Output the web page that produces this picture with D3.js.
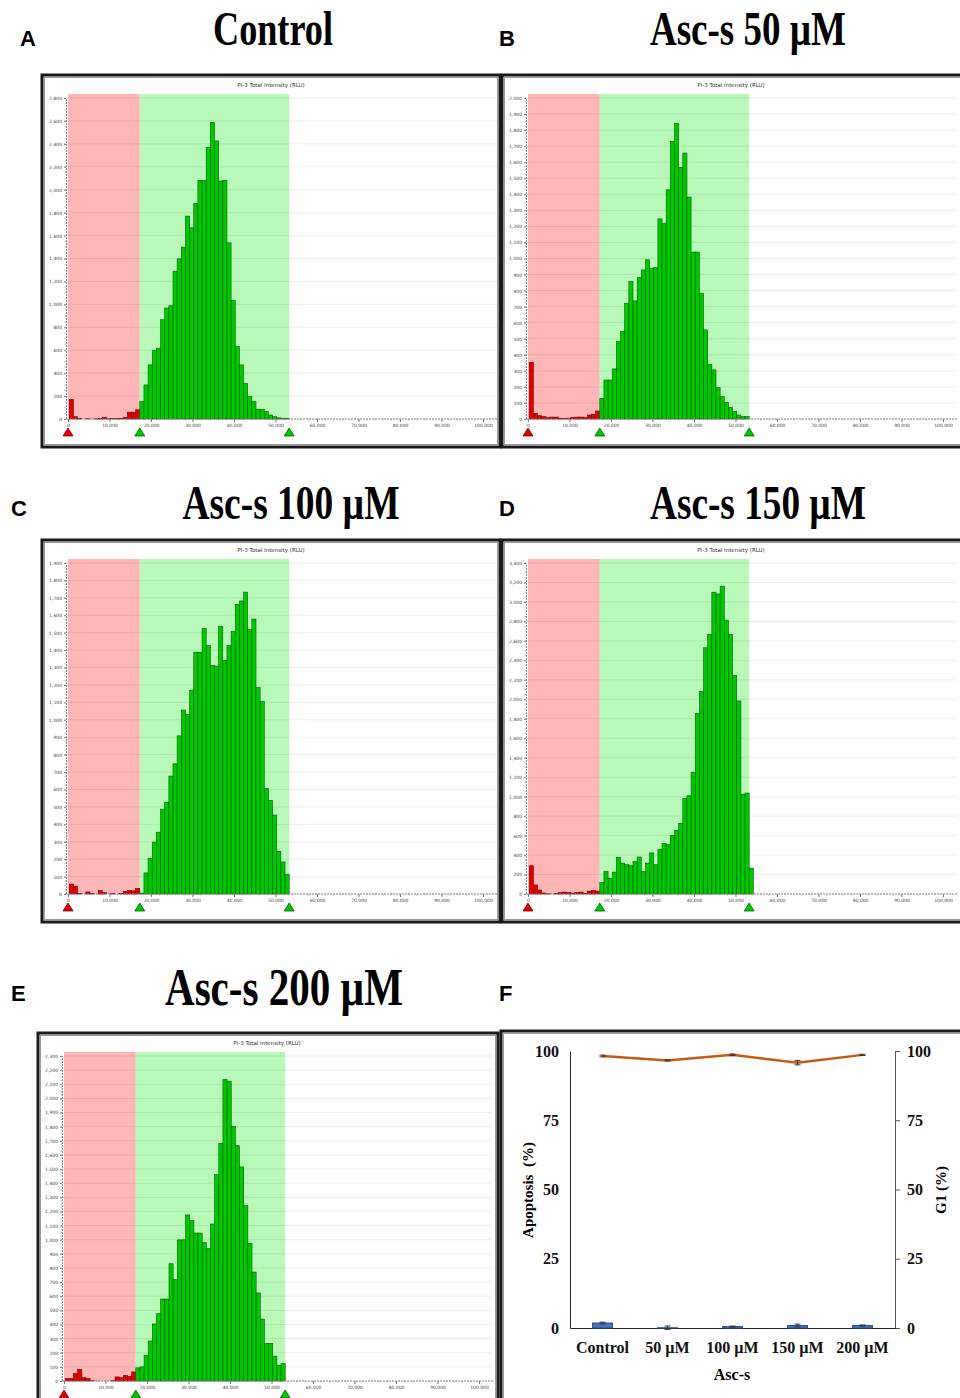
<!DOCTYPE html>
<html>
<head>
<meta charset="utf-8">
<script src="https://cdnjs.cloudflare.com/ajax/libs/d3/7.8.5/d3.min.js"></script>
<style>
  body { margin: 0; background: #fff; }
  svg { display: block; }
</style>
</head>
<body>
<script>
// ---- histogram data (cell counts per 1,000 RLU bin) ----
var binWidth = 1000;
var redStart = 300, greenStart = 17300, greenEnd = 53300;
var xTicks = [0, 10000, 20000, 30000, 40000, 50000, 60000, 70000, 80000, 90000, 100000];

var panelLetters = ["A", "B", "C", "D", "E"];
var panelTitles = ["Control", "Asc-s 50 \u00b5M", "Asc-s 100 \u00b5M", "Asc-s 150 \u00b5M", "Asc-s 200 \u00b5M"];
var yMaxes = [2800, 2000, 1900, 3400, 2300];
var ySteps = [200, 100, 100, 200, 100];

var redA = [172, 20, 3, 0, 2, 0, 2, 5, 15, 2, 3, 3, 5, 15, 60, 60, 80];
var greenA = [151, 297, 472, 598, 618, 866, 968, 988, 1289, 1397, 1499, 1770, 1668, 1881, 2082, 2082, 2368, 2587,
  2426, 2076, 2082, 1537, 1035, 633, 472, 312, 195, 151, 85, 85, 64, 35, 20, 10, 5, 5];

var redB = [353, 35, 21, 15, 8, 12, 12, 5, 3, 5, 10, 12, 12, 10, 25, 30, 50];
var greenB = [129, 243, 243, 312, 482, 545, 721, 857, 736, 881, 929, 992, 940, 944, 1247, 1220, 1428, 1730,
  1840, 1568, 1657, 1383, 1040, 1040, 784, 555, 341, 306, 195, 139, 104, 71, 46, 25, 15, 15];

var redC = [57, 45, 3, 0, 12, 2, 0, 20, 8, 0, 2, 0, 2, 15, 20, 18, 32];
var greenC = [5, 121, 203, 298, 355, 487, 525, 677, 747, 908, 1056, 1031, 1170, 1388, 1388, 1524, 1426, 1312,
  1308, 1536, 1341, 1426, 1507, 1663, 1682, 1733, 1517, 1578, 1185, 1104, 607, 538, 453, 245, 184, 114];

var redD = [290, 93, 41, 10, 2, 0, 5, 15, 20, 15, 10, 15, 20, 5, 30, 35, 30];
var greenD = [117, 232, 163, 225, 377, 318, 301, 290, 335, 380, 232, 318, 422, 301, 456, 518, 508, 601,
  653, 726, 981, 1009, 1251, 1856, 2080, 2529, 2668, 3100, 3082, 3162, 2813, 2668, 2243, 1983, 1026, 1037, 266];

var redE = [17, 17, 52, 81, 24, 17, 2, 0, 0, 0, 0, 2, 29, 24, 40, 33, 64];
var greenE = [93, 100, 183, 283, 404, 476, 580, 580, 830, 718, 999, 999, 1175, 1135, 1047, 1047, 980, 937,
  1111, 1460, 1682, 2134, 2122, 1801, 1665, 1515, 1242, 975, 771, 623, 438, 266, 266, 176, 112, 124];

var redSeries = [redA, redB, redC, redD, redE];
var greenSeries = [greenA, greenB, greenC, greenD, greenE];

// ---- panel F data ----
var groups = ["Control", "50 \u00b5M", "100 \u00b5M", "150 \u00b5M", "200 \u00b5M"];
var apoptosis = [1.8, 0.1, 0.5, 0.9, 0.9];
var apoptosisErr = [0.3, 0.6, 0.2, 0.5, 0.2];
var g1 = [98.2, 96.6, 98.6, 95.8, 98.6];
var g1Err = [0.3, 0.2, 0.3, 0.8, 0.2];
var fTicks = [0, 25, 50, 75, 100];

// ---- layout ----
var frames = [
  {x: 42, y: 75, w: 458, plotH: 325, tx: 273, tw: 120, ty: 45, fs: 48, lx: 20, ly: 46},
  {x: 502, y: 75, w: 462, plotH: 325, tx: 748, tw: 196, ty: 45, fs: 48, lx: 499, ly: 46},
  {x: 42, y: 540, w: 458, plotH: 335, tx: 291, tw: 217, ty: 519, fs: 48, lx: 11, ly: 516},
  {x: 502, y: 540, w: 462, plotH: 335, tx: 758, tw: 216, ty: 519, fs: 48, lx: 499, ly: 516},
  {x: 38, y: 1033, w: 460, plotH: 329, tx: 284, tw: 238, ty: 1005, fs: 52, lx: 11, ly: 1001}
];

var svg = d3.select("body").append("svg")
  .attr("width", 960)
  .attr("height", 1398);

var fmt = d3.format(",");

frames.forEach(function(f, p) {
  var g = svg.append("g");
  var top = f.y + 19;
  var axisY = top + f.plotH;
  var fh = f.plotH + 47;

  // letter + title
  svg.append("text")
    .attr("x", f.lx).attr("y", f.ly)
    .style("font-family", "Liberation Sans, Arial, sans-serif")
    .style("font-weight", "bold")
    .style("font-size", "22px")
    .text(panelLetters[p]);

  svg.append("text")
    .attr("x", f.tx - f.tw / 2).attr("y", f.ty)
    .attr("textLength", f.tw)
    .attr("lengthAdjust", "spacingAndGlyphs")
    .style("font-family", "Liberation Serif, Times New Roman, serif")
    .style("font-weight", "bold")
    .style("font-size", f.fs + "px")
    .text(panelTitles[p]);

  // frame
  g.append("rect")
    .attr("x", f.x).attr("y", f.y).attr("width", f.w).attr("height", fh)
    .attr("fill", "#fff").attr("stroke", "#1a1a1a").attr("stroke-width", 3);
  g.append("rect")
    .attr("x", f.x + 2.5).attr("y", f.y + 2.5).attr("width", f.w - 5).attr("height", fh - 5)
    .attr("fill", "none").attr("stroke", "#9a9a9a").attr("stroke-width", 1);

  g.append("text")
    .attr("x", f.x + 229).attr("y", f.y + 12)
    .attr("text-anchor", "middle")
    .style("font-family", "DejaVu Sans, sans-serif")
    .style("font-size", "5.5px")
    .attr("fill", "#333")
    .text("PI-3 Total Intensity (RLU)");

  var x = d3.scaleLinear().domain([0, 100000]).range([f.x + 26, f.x + 441]);
  var y = d3.scaleLinear().domain([0, yMaxes[p]]).range([axisY, top + (f.plotH - f.plotH * yMaxes[p] / (yMaxes[p] + ySteps[p] * 0.15))]);
  y.range([axisY, top + 4]);

  var left = f.x + 24, right = f.x + 455;

  // gate bands
  g.append("rect")
    .attr("x", x(0)).attr("y", top)
    .attr("width", x(greenStart) - x(0)).attr("height", axisY - top)
    .attr("fill", "#ffb6b6");
  g.append("rect")
    .attr("x", x(greenStart)).attr("y", top)
    .attr("width", x(greenEnd) - x(greenStart)).attr("height", axisY - top)
    .attr("fill", "#b8f8b8");

  // grid
  var yt = d3.range(0, yMaxes[p] + 1, ySteps[p]);
  g.selectAll(".grid").data(yt).enter().append("line")
    .attr("x1", left).attr("x2", right)
    .attr("y1", function(d) { return y(d); }).attr("y2", function(d) { return y(d); })
    .attr("stroke", "rgba(0,0,0,0.07)").attr("stroke-width", 1);

  // bars
  var red = redSeries[p].map(function(c, i) { return {lo: redStart + i * binWidth, c: c}; });
  var green = greenSeries[p].map(function(c, i) { return {lo: greenStart + i * binWidth, c: c}; });

  g.selectAll(".rbar").data(red).enter().append("rect")
    .attr("x", function(d) { return x(d.lo); })
    .attr("width", function(d) { return x(d.lo + binWidth) - x(d.lo); })
    .attr("y", function(d) { return y(d.c); })
    .attr("height", function(d) { return axisY - y(d.c); })
    .attr("fill", "#e00000").attr("stroke", "#7a0000").attr("stroke-width", 0.6);

  g.selectAll(".gbar").data(green).enter().append("rect")
    .attr("x", function(d) { return x(d.lo); })
    .attr("width", function(d) { return x(d.lo + binWidth) - x(d.lo); })
    .attr("y", function(d) { return y(d.c); })
    .attr("height", function(d) { return axisY - y(d.c); })
    .attr("fill", "#00c800").attr("stroke", "#006000").attr("stroke-width", 0.6);

  // axes
  var yAxis = d3.axisLeft(y).tickValues(yt).tickSize(2).tickPadding(2).tickFormat(fmt);
  var ya = g.append("g").attr("transform", "translate(" + left + ",0)").call(yAxis);
  var xAxis = d3.axisBottom(x).tickValues(xTicks).tickSize(3).tickPadding(2).tickFormat(fmt);
  var xa = g.append("g").attr("transform", "translate(0," + axisY + ")").call(xAxis);
  [ya, xa].forEach(function(a) {
    a.select(".domain").attr("stroke", "#888").attr("stroke-dasharray", "2,1");
    a.selectAll(".tick line").attr("stroke", "#777");
    a.selectAll("text").style("font-size", "4.5px").style("font-family", "DejaVu Sans, sans-serif").attr("fill", "#444");
  });
  xa.select(".domain").attr("d", "M" + left + ",0H" + right);
  // minor ticks
  g.selectAll(".xm").data(d3.range(0, 100001, 2000)).enter().append("line")
    .attr("x1", function(d) { return x(d); }).attr("x2", function(d) { return x(d); })
    .attr("y1", axisY).attr("y2", axisY + 1.5).attr("stroke", "#999").attr("stroke-width", 0.6);
  g.selectAll(".ym").data(d3.range(0, yMaxes[p] + 1, ySteps[p] / 4)).enter().append("line")
    .attr("x1", left - 1.5).attr("x2", left)
    .attr("y1", function(d) { return y(d); }).attr("y2", function(d) { return y(d); })
    .attr("stroke", "#999").attr("stroke-width", 0.6);

  // gate markers
  var marks = [{v: 0, c: "#e00000", s: "#800000"}, {v: greenStart, c: "#00c800", s: "#006000"}, {v: greenEnd, c: "#00c800", s: "#006000"}];
  g.selectAll(".tri").data(marks).enter().append("path")
    .attr("d", function(d) {
      var cx = x(d.v), by = axisY + 17;
      return "M" + (cx - 5) + "," + by + "L" + cx + "," + (by - 8) + "L" + (cx + 5) + "," + by + "Z";
    })
    .attr("fill", function(d) { return d.c; })
    .attr("stroke", function(d) { return d.s; }).attr("stroke-width", 0.8);
});

// ---- panel F ----
svg.append("text")
  .attr("x", 499).attr("y", 1001)
  .style("font-family", "Liberation Sans, Arial, sans-serif")
  .style("font-weight", "bold")
  .style("font-size", "22px")
  .text("F");

var fg = svg.append("g");
fg.append("rect")
  .attr("x", 501).attr("y", 1031).attr("width", 470).attr("height", 380)
  .attr("fill", "#fff").attr("stroke", "#1a1a1a").attr("stroke-width", 3);
fg.append("rect")
  .attr("x", 503.5).attr("y", 1033.5).attr("width", 465).attr("height", 375)
  .attr("fill", "none").attr("stroke", "#9a9a9a").attr("stroke-width", 1);

var fx = d3.scaleBand().domain(groups).range([570, 895]);
var fy = d3.scaleLinear().domain([0, 100]).range([1328, 1051]);
var serif = "Liberation Serif, Times New Roman, serif";

// left axis (no ticks)
var la = fg.append("g").attr("transform", "translate(570,0)")
  .call(d3.axisLeft(fy).tickValues(fTicks).tickSize(0).tickPadding(11));
la.select(".domain").attr("stroke", "#222");
// right axis
var ra = fg.append("g").attr("transform", "translate(895,0)")
  .call(d3.axisRight(fy).tickValues(fTicks).tickSize(5).tickPadding(7));
ra.select(".domain").attr("stroke", "#555");
ra.selectAll(".tick line").attr("stroke", "#555");
// bottom axis
var ba = fg.append("g").attr("transform", "translate(0,1328)")
  .call(d3.axisBottom(fx).tickSize(0).tickPadding(14));
ba.select(".domain").attr("stroke", "#222");

[la, ra, ba].forEach(function(a) {
  a.selectAll("text")
    .style("font-family", serif).style("font-weight", "bold").style("font-size", "16px").attr("fill", "#111");
});

// bars (apoptosis)
var bw = 20;
fg.selectAll(".fbar").data(groups).enter().append("rect")
  .attr("x", function(d) { return fx(d) + fx.bandwidth() / 2 - bw / 2; })
  .attr("width", bw)
  .attr("y", function(d, i) { return fy(apoptosis[i]); })
  .attr("height", function(d, i) { return 1328 - fy(apoptosis[i]); })
  .attr("fill", "#4472c4").attr("stroke", "#2f4f8f").attr("stroke-width", 1);

function errBars(vals, errs, col) {
  groups.forEach(function(d, i) {
    var cx = fx(d) + fx.bandwidth() / 2;
    fg.append("line")
      .attr("x1", cx).attr("x2", cx)
      .attr("y1", fy(vals[i] - errs[i])).attr("y2", fy(vals[i] + errs[i]))
      .attr("stroke", col).attr("stroke-width", 1);
    [vals[i] - errs[i], vals[i] + errs[i]].forEach(function(v) {
      fg.append("line")
        .attr("x1", cx - 3).attr("x2", cx + 3)
        .attr("y1", fy(v)).attr("y2", fy(v))
        .attr("stroke", col).attr("stroke-width", 1);
    });
  });
}
errBars(apoptosis, apoptosisErr, "#333");

// G1 line
var line = d3.line()
  .x(function(d, i) { return fx(groups[i]) + fx.bandwidth() / 2; })
  .y(function(d) { return fy(d); });
fg.append("path")
  .datum(g1)
  .attr("d", line)
  .attr("fill", "none").attr("stroke", "#c55a11").attr("stroke-width", 2.5);
errBars(g1, g1Err, "#333");

// axis titles
fg.append("text")
  .attr("transform", "translate(533,1190) rotate(-90)")
  .attr("text-anchor", "middle")
  .style("font-family", serif).style("font-weight", "bold").style("font-size", "15px")
  .attr("xml:space", "preserve")
  .text("Apoptosis  (%)");
fg.append("text")
  .attr("transform", "translate(946,1190) rotate(-90)")
  .attr("text-anchor", "middle")
  .style("font-family", serif).style("font-weight", "bold").style("font-size", "15px")
  .text("G1 (%)");
fg.append("text")
  .attr("x", 732).attr("y", 1380)
  .attr("text-anchor", "middle")
  .style("font-family", serif).style("font-weight", "bold").style("font-size", "16px")
  .text("Asc-s");
</script>
</body>
</html>
